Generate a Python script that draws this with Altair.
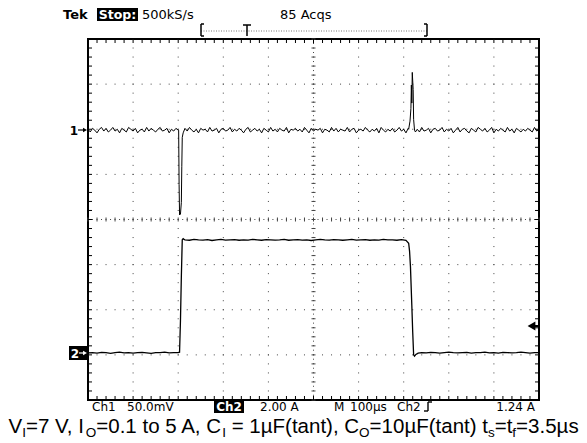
import altair as alt
import pandas as pd

# ---------------- data ----------------
# time base 100 us/div (0..1000 us), Ch1 50 mV/div (output ripple), Ch2 2 A/div (load current)
ch1_noise_a = [1, -2, 2, 0, -3, 1, 3, -1, 2, -2, 0, 3, -1, 1, -3, 2, 0, -2, 3, 1,
               -1, 2, -3, 0, 1, -2, 3, -1, 2, 0, -2, 1, 3, -1, 0, 2, -3, 1, -1, 2, 0]   # mV, every 5 us from 0 us
ch1_dip_t = [201, 202, 203, 205, 207, 208, 209, 211]
ch1_dip_mv = [0, -60, -94, -93, -80, -40, -8, -3]
ch1_noise_b = [2, -1, 3, 0, -2, 1, -3, 2, 0, 1,
               -2, 3, -1, 0, 2, -3, 1, 2, -1, 0,
               3, -2, 1, -1, 2, 0, -3, 1, 3, -2,
               0, 2, -1, 1, -3, 2, 0, -2, 3, -1,
               1, -2, 2, 0, -1, 3, -3, 1, 0, 2,
               -1, 1, -2, 3, 0, -3, 2, -1, 1, 0,
               2, -3, 1, 0, -2, 3, -1, 2, -2, 1,
               0, -1, 3, -2, 1, 2, -3, 0, 1, -1,
               3, 0, -2, 1, -1, 2, -3, 3, 0, -2,
               1, -1, 2, -2, 0, 3, -1, 1, -3, 2]                                       # mV, every 5 us from 215 us
ch1_spike_t = [711, 714, 716, 717, 718, 719, 721, 722, 724, 726]
ch1_spike_mv = [1, 10, 24, 50, 30, 64, 45, 12, 0, -2]
ch1_noise_c = [1, -2, 3, -1, 0, 2, -3, 1, 2, -1,
               0, 3, -2, 1, -1, 2, -3, 0, 3, -2,
               1, 2, -1, -3, 2, 0, -2, 3, 1, -1,
               2, -2, 0, 3, -3, 1, -1, 2, 0, -2,
               3, -1, 1, -3, 2, 0, -2, 1, -1, 2,
               0, -2, 3, -1, 1]                                                         # mV, every 5 us from 730 us

ch2_low_a = [0.09, 0.10, 0.08, 0.11, 0.10, 0.07, 0.10, 0.12, 0.09, 0.10, 0.08,
             0.10, 0.11, 0.09, 0.07, 0.10, 0.10, 0.12, 0.09, 0.10, 0.10]               # A, every 10 us from 0 us
ch2_rise_t = [203, 205, 207, 209, 211, 213]
ch2_rise_a = [0.12, 1.5, 3.5, 5.1, 5.15, 5.12]
ch2_high = [5.10, 5.08, 5.12, 5.10, 5.09, 5.11, 5.07, 5.10, 5.12, 5.09,
            5.10, 5.11, 5.08, 5.10, 5.09, 5.12, 5.10, 5.08, 5.11, 5.10,
            5.09, 5.10, 5.12, 5.08, 5.10, 5.11, 5.09, 5.10, 5.07, 5.10,
            5.12, 5.10, 5.09, 5.11, 5.10, 5.08, 5.10, 5.12, 5.09, 5.10,
            5.11, 5.08, 5.10, 5.09, 5.12, 5.10, 5.10, 5.08, 5.11, 5.08]                 # A, every 10 us from 215 us
ch2_fall_t = [711, 713, 715, 718, 720, 722, 724, 727, 732]
ch2_fall_a = [4.95, 4.6, 3.9, 2.2, 1.0, 0.0, -0.06, 0.02, 0.08]
ch2_low_b = [0.10, 0.09, 0.11, 0.10, 0.08, 0.10, 0.12, 0.10, 0.09, 0.10,
             0.11, 0.08, 0.10, 0.10, 0.12, 0.09, 0.10, 0.08, 0.11, 0.10,
             0.09, 0.10, 0.12, 0.10, 0.08, 0.10, 0.10]                                 # A, every 10 us from 740 us

grid_major_t = [100, 200, 300, 400, 600, 700, 800, 900]
grid_major_div = [-3, -2, -1, 1, 2, 3]

# ---------------- build tables ----------------
CH1_MV_PER_DIV, CH1_POS = 50.0, 1.98
CH2_A_PER_DIV, CH2_POS = 2.0, -3.0

t1 = ([5 * i for i in range(len(ch1_noise_a))] + ch1_dip_t +
      [215 + 5 * i for i in range(len(ch1_noise_b))] + ch1_spike_t +
      [730 + 5 * i for i in range(len(ch1_noise_c))])
v1 = ch1_noise_a + ch1_dip_mv + ch1_noise_b + ch1_spike_mv + ch1_noise_c
df1 = pd.DataFrame({"t": t1, "v": v1})
df1 = df1[df1.t <= 1000].reset_index(drop=True)
df1["div"] = df1.v / CH1_MV_PER_DIV + CH1_POS
df1["i"] = range(len(df1))

t2 = ([10 * i for i in range(len(ch2_low_a))] + ch2_rise_t +
      [215 + 10 * i for i in range(len(ch2_high))] + ch2_fall_t +
      [740 + 10 * i for i in range(len(ch2_low_b))])
v2 = ch2_low_a + ch2_rise_a + ch2_high + ch2_fall_a + ch2_low_b
df2 = pd.DataFrame({"t": t2, "v": v2})
df2 = df2[df2.t <= 1000].reset_index(drop=True)
df2["div"] = df2.v / CH2_A_PER_DIV + CH2_POS
df2["i"] = range(len(df2))

minor_t = pd.DataFrame({"t": [20 * k for k in range(51)]})
minor_div = pd.DataFrame({"d": [-4 + 0.2 * k for k in range(41)]})

# ---------------- layout ----------------
W, H = 451, 361
OX, OY = 88, 39          # page position of the plot origin
xs = alt.Scale(domain=[0, 1000], nice=False, zero=False)
ys = alt.Scale(domain=[-4, 4], nice=False, zero=False)
SCOPE_FONT = "DejaVu Sans"
one = pd.DataFrame({"k": [0]})


def txt(s, px, py, size=12, bold=False, color="black", align="left", font=SCOPE_FONT):
    return alt.Chart(one).mark_text(
        text=s, align=align, baseline="alphabetic", fontSize=size,
        fontWeight="bold" if bold else "normal", color=color, font=font
    ).encode(x=alt.value(px - OX), y=alt.value(py - OY))


def box(x1, x2, y1, y2, color="black"):
    return alt.Chart(one).mark_rect(color=color).encode(
        x=alt.value(x1 - OX), x2=alt.value(x2 - OX), y=alt.value(y1 - OY), y2=alt.value(y2 - OY))


def seg(x1, y1, x2, y2, color="black", w=1.0, dash=None):
    kw = dict(color=color, strokeWidth=w)
    if dash:
        kw["strokeDash"] = dash
    return alt.Chart(one).mark_rule(**kw).encode(
        x=alt.value(x1 - OX), x2=alt.value(x2 - OX), y=alt.value(y1 - OY), y2=alt.value(y2 - OY))


def tri(px, py, shape, color="black", size=28):
    return alt.Chart(one).mark_point(shape=shape, filled=True, color=color, size=size, opacity=1).encode(
        x=alt.value(px - OX), y=alt.value(py - OY))


layers = []
GRID = "#444444"
# dotted graticule
layers.append(alt.Chart(pd.DataFrame({"t": grid_major_t})).mark_rule(
    color=GRID, strokeWidth=1, strokeDash=[1, 8.025], strokeDashOffset=0.5
).encode(x=alt.X("t:Q", scale=xs, axis=None)))
layers.append(alt.Chart(pd.DataFrame({"d": grid_major_div})).mark_rule(
    color=GRID, strokeWidth=1, strokeDash=[1, 8.02], strokeDashOffset=0.5
).encode(y=alt.Y("d:Q", scale=ys, axis=None)))
# centre cross-hair
layers.append(alt.Chart(pd.DataFrame({"t": [500]})).mark_rule(
    color=GRID, strokeWidth=1, strokeDash=[1, 3.51], strokeDashOffset=0.5
).encode(x=alt.X("t:Q", scale=xs, axis=None)))
layers.append(alt.Chart(pd.DataFrame({"d": [0]})).mark_rule(
    color=GRID, strokeWidth=1, strokeDash=[1, 3.51], strokeDashOffset=0.5
).encode(y=alt.Y("d:Q", scale=ys, axis=None)))
layers.append(alt.Chart(minor_t).mark_rule(color=GRID, strokeWidth=1).encode(
    x=alt.X("t:Q", scale=xs, axis=None), y=alt.value(H / 2 - 2), y2=alt.value(H / 2 + 2)))
layers.append(alt.Chart(minor_div).mark_rule(color=GRID, strokeWidth=1).encode(
    y=alt.Y("d:Q", scale=ys, axis=None), x=alt.value(W / 2 - 2), x2=alt.value(W / 2 + 2)))
# border ticks (inward)
layers.append(alt.Chart(minor_t).mark_rule(color="black", strokeWidth=1).encode(
    x=alt.X("t:Q", scale=xs, axis=None), y=alt.value(0), y2=alt.value(4)))
layers.append(alt.Chart(minor_t).mark_rule(color="black", strokeWidth=1).encode(
    x=alt.X("t:Q", scale=xs, axis=None), y=alt.value(H), y2=alt.value(H - 4)))
layers.append(alt.Chart(minor_div).mark_rule(color="black", strokeWidth=1).encode(
    y=alt.Y("d:Q", scale=ys, axis=None), x=alt.value(0), x2=alt.value(4)))
layers.append(alt.Chart(minor_div).mark_rule(color="black", strokeWidth=1).encode(
    y=alt.Y("d:Q", scale=ys, axis=None), x=alt.value(W), x2=alt.value(W - 4)))

# traces
layers.append(alt.Chart(df1).mark_line(color="black", strokeWidth=1, interpolate="linear").encode(
    x=alt.X("t:Q", scale=xs, axis=None), y=alt.Y("div:Q", scale=ys, axis=None), order="i:Q"))
layers.append(alt.Chart(df2).mark_line(color="black", strokeWidth=1.3, interpolate="linear").encode(
    x=alt.X("t:Q", scale=xs, axis=None), y=alt.Y("div:Q", scale=ys, axis=None), order="i:Q"))

# channel markers
layers.append(txt("1", 74, 135, size=12, bold=True, align="center"))
layers.append(seg(78, 130, 85, 130, w=1.2))
layers.append(tri(85, 130, "triangle-right", size=22))
layers.append(box(69, 88, 346, 360))
layers.append(txt("2", 75, 358, size=12, bold=True, color="white", align="center"))
layers.append(seg(79, 353, 85, 353, color="white", w=1.2))
layers.append(tri(85, 353, "triangle-right", color="white", size=20))
# trigger level arrow
layers.append(seg(530, 326, 539, 326, w=2))
layers.append(tri(531.5, 326, "triangle-left", size=80))

# header
layers.append(txt("Tek", 63, 19, size=13, bold=True))
layers.append(box(97, 138, 6, 21))
layers.append(txt("Stop:", 117.5, 18.5, size=12.5, bold=True, color="white", align="center"))
layers.append(txt("500kS/s", 142, 19, size=13))
layers.append(txt("85 Acqs", 280, 19, size=13))
# record-position bracket
layers.append(seg(201, 31, 427, 31, color="#777777", w=1, dash=[1, 1.5]))
layers.append(seg(201, 24, 201, 36, w=1.5))
layers.append(seg(201, 24, 204, 24, w=1.5))
layers.append(seg(201, 36, 204, 36, w=1.5))
layers.append(seg(427, 24, 427, 36, w=1.5))
layers.append(seg(424, 24, 427, 24, w=1.5))
layers.append(seg(424, 36, 427, 36, w=1.5))
layers.append(seg(247, 25, 247, 36, w=1.5))
layers.append(seg(243, 25, 251, 25, w=1.5))

# bottom readout
layers.append(txt("Ch1", 92, 411, size=12))
layers.append(txt("50.0mV", 127, 411, size=12))
layers.append(box(214, 244, 400, 413))
layers.append(txt("Ch2", 229, 411, size=12, bold=True, color="white", align="center"))
layers.append(txt("2.00 A", 260, 411, size=12))
layers.append(txt("M", 334, 411, size=12))
layers.append(txt("100\u00b5s", 350, 411, size=12))
layers.append(txt("Ch2", 397, 411, size=12))
layers.append(seg(424, 411, 428, 411, w=1.4))
layers.append(seg(428, 411, 428, 402, w=1.4))
layers.append(seg(428, 402, 432, 402, w=1.4))
layers.append(txt("1.24 A", 535, 411, size=12, align="right"))

# caption with subscripts
ARIAL_W = {"V": 667, "I": 278, "=": 584, "7": 556, " ": 278, ",": 278, "O": 778, "0": 556,
           ".": 278, "1": 556, "t": 278, "o": 556, "5": 556, "A": 667, "C": 722, "\u00b5": 576,
           "F": 611, "(": 333, "a": 556, "n": 556, ")": 333, "s": 500, "f": 278, "3": 556}
caption = [("V", False), ("I", True), ("=7 V, I", False), ("O", True), ("=0.1 to 5 A, C", False),
           ("I", True), (" = 1\u00b5F(tant), C", False), ("O", True), ("=10\u00b5F(tant) t", False),
           ("s", True), ("=t", False), ("f", True), ("=3.5\u00b5s", False)]
CAP_F, SUB_F = 20.5, 13.5
CAP_BASE, SUB_BASE = 433, 437
cx = 8.5
for s, is_sub in caption:
    f = SUB_F if is_sub else CAP_F
    while s.startswith(" "):          # svg drops leading blanks: advance instead
        cx += ARIAL_W[" "] / 1000.0 * f
        s = s[1:]
    layers.append(txt(s, cx, SUB_BASE if is_sub else CAP_BASE, size=f, font="Liberation Sans"))
    cx += sum(ARIAL_W[c] for c in s) / 1000.0 * f

chart = alt.layer(*layers).properties(
    width=W, height=H,
    padding={"left": OX - 8, "top": OY - 8, "right": 40, "bottom": 43},
    autosize="none",
    background="white",
).configure_view(stroke="black", strokeWidth=2)

chart.save("out.html", embed_options={"renderer": "svg", "actions": False})
